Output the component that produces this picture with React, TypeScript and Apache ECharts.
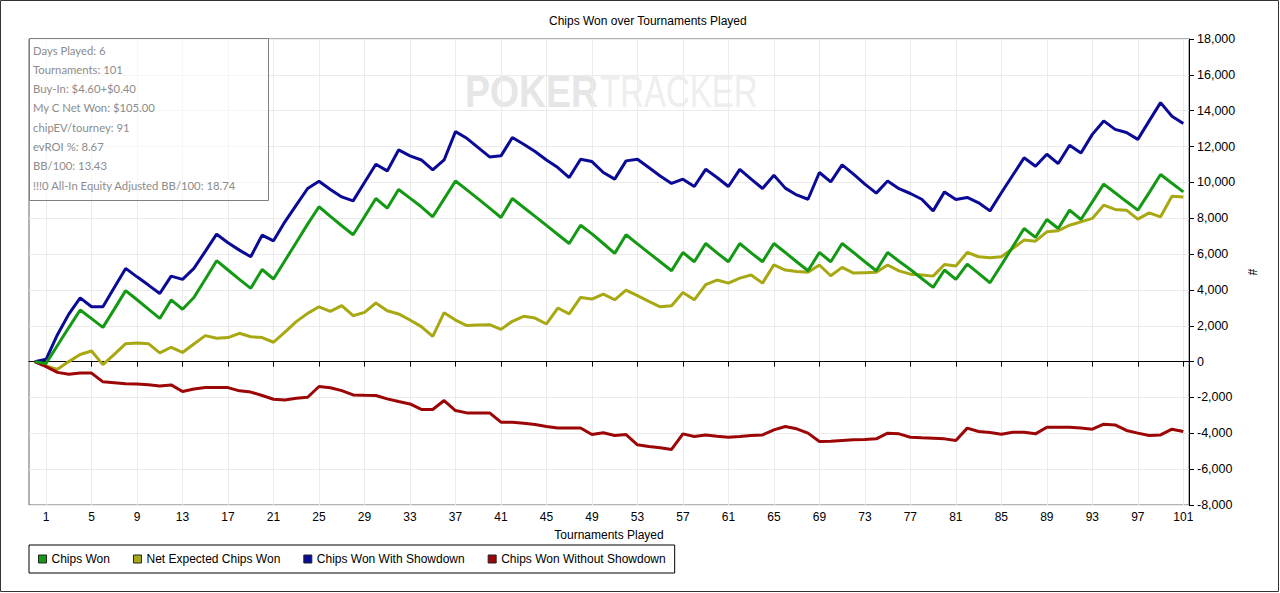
import React, { useEffect, useRef } from "react";
import * as echarts from "echarts";

const TOURNAMENTS: string[] = Array.from({ length: 102 }, (_, i) => String(i));

const SERIES_NAMES = [
  "Chips Won",
  "Net Expected Chips Won",
  "Chips Won With Showdown",
  "Chips Won Without Showdown",
];

const chipsWon = [0,-100,900,1900,2880,2400,1910,2930,3960,3450,
2930,2410,3440,2920,3580,4600,5630,5110,4590,4090,
5140,4610,5630,6650,7670,8640,8100,7580,7080,8080,
9100,8560,9600,9120,8640,8080,9080,10080,9580,9080,
8560,8040,9100,8600,8100,7600,7090,6590,7610,7130,
6590,6040,7080,6570,6070,5570,5070,6090,5570,6590,
6070,5570,6590,6070,5570,6590,6090,5570,5070,6090,
5570,6590,6090,5570,5070,6090,5600,5140,4640,4140,
5110,4590,5440,4920,4400,5390,6410,7430,6930,7930,
7430,8450,7930,8910,9900,9420,8930,8450,9430,10440,
9950,9470];

const netExpected = [0,-240,-430,0,400,590,-170,400,1000,1040,
1000,490,800,510,980,1450,1300,1340,1580,1390,
1340,1080,1650,2230,2690,3060,2800,3120,2560,2750,
3270,2840,2660,2320,1950,1410,2730,2320,2010,2040,
2060,1800,2250,2530,2430,2100,2990,2660,3580,3490,
3770,3450,3990,3680,3360,3060,3120,3860,3450,4290,
4550,4380,4660,4830,4380,5400,5110,5030,4980,5390,
4790,5260,4940,4960,4980,5390,5060,4880,4830,4770,
5420,5330,6090,5850,5790,5850,6310,6780,6720,7240,
7300,7610,7800,7990,8730,8490,8450,7950,8300,8080,
9230,9190];

const withShowdown = [0,130,1500,2650,3560,3060,3060,4140,5200,4730,
4270,3800,4770,4590,5200,6150,7110,6630,6220,5850,
7060,6740,7800,8730,9660,10060,9600,9190,8970,9990,
11010,10640,11810,11480,11250,10700,11250,12830,12460,11940,
11420,11480,12500,12130,11720,11250,10830,10270,11290,11160,
10550,10180,11200,11290,10830,10360,9940,10180,9770,10730,
10270,9770,10730,10180,9660,10400,9680,9300,9060,10550,
10030,10980,10460,9900,9400,10080,9650,9380,9060,8410,
9470,9040,9160,8860,8410,9420,10400,11370,10900,11570,
11050,12070,11640,12680,13430,12960,12780,12400,13430,14450,
13690,13280];

const withoutShowdown = [0,-280,-600,-700,-630,-640,-1130,-1180,-1230,-1250,
-1290,-1360,-1300,-1670,-1530,-1450,-1450,-1450,-1630,-1700,
-1890,-2100,-2140,-2040,-1990,-1390,-1460,-1620,-1860,-1880,
-1890,-2080,-2230,-2360,-2670,-2670,-2170,-2730,-2860,-2860,
-2860,-3380,-3380,-3440,-3510,-3620,-3710,-3700,-3700,-4070,
-3970,-4120,-4070,-4640,-4740,-4810,-4900,-4030,-4180,-4090,
-4160,-4220,-4180,-4120,-4090,-3810,-3620,-3750,-3990,-4460,
-4440,-4400,-4360,-4350,-4310,-3990,-4030,-4220,-4250,-4270,
-4310,-4400,-3710,-3900,-3960,-4050,-3940,-3940,-4030,-3660,
-3660,-3660,-3710,-3770,-3490,-3530,-3840,-3990,-4120,-4090,
-3770,-3900];

const INFO_LINES = [
  "Days Played: 6",
  "Tournaments: 101",
  "Buy-In: $4.60+$0.40",
  "My C Net Won: $105.00",
  "chipEV/tourney: 91",
  "evROI %: 8.67",
  "BB/100: 13.43",
  "!!!0 All-In Equity Adjusted BB/100: 18.74",
];

const COLORS = ["#149914", "#a8a812", "#0a0a96", "#9c0606"];
const FONT = "Arial, 'Liberation Sans', sans-serif";

const showTick = (index: number) => index % 4 === 1;

export default function App() {
  const ref = useRef<HTMLDivElement>(null);
  useEffect(() => {
    if (!ref.current) return;
    const chart = echarts.init(ref.current, null, { renderer: "svg" });
    const seriesData = [chipsWon, netExpected, withShowdown, withoutShowdown];
    const zs = [4, 3, 3, 3];
    const option: any = {
      animation: false,
      backgroundColor: "#ffffff",
      textStyle: { fontFamily: FONT },
      title: {
        text: "Chips Won over Tournaments Played",
        left: 549,
        top: 15,
        padding: 0,
        textStyle: { fontSize: 12, fontWeight: "normal", color: "#000", fontFamily: FONT },
      },
      grid: {
        left: 29,
        right: 91,
        top: 39,
        bottom: 88,
        show: true,
        borderColor: "#666",
        borderWidth: 1,
        containLabel: false,
      },
      legend: {
        data: SERIES_NAMES,
        left: 29,
        top: 545,
        padding: [8, 9, 8, 9],
        itemGap: 23,
        itemWidth: 8,
        itemHeight: 8,
        icon: "rect",
        borderColor: "#000",
        borderWidth: 1,
        borderRadius: 0,
        textStyle: { fontSize: 12, color: "#000", fontFamily: FONT },
        itemStyle: { borderColor: "#222", borderWidth: 1 },
      },
      xAxis: {
        type: "category",
        data: TOURNAMENTS,
        boundaryGap: true,
        name: "Tournaments Played",
        nameLocation: "middle",
        nameGap: 24,
        nameTextStyle: { fontSize: 12, color: "#000", fontFamily: FONT },
        axisLine: { show: true, lineStyle: { color: "#000", width: 1 } },
        axisTick: { show: true, interval: showTick, alignWithLabel: true, length: 5, lineStyle: { color: "#000" } },
        axisLabel: { interval: showTick, fontSize: 12, color: "#000", margin: 6, fontFamily: FONT },
        splitLine: { show: true, interval: showTick, alignWithLabel: true, lineStyle: { color: "#ebebeb", width: 1 } },
      },
      yAxis: {
        type: "value",
        position: "right",
        min: -8000,
        max: 18000,
        interval: 2000,
        name: "#",
        nameLocation: "middle",
        nameGap: 49,
        nameRotate: -90,
        nameTextStyle: { fontSize: 12, color: "#000", fontFamily: FONT },
        axisLine: { show: true, lineStyle: { color: "#000", width: 1 } },
        axisTick: { show: true, length: 5, lineStyle: { color: "#000" } },
        axisLabel: {
          fontSize: 12.5,
          color: "#000",
          margin: 8,
          fontFamily: FONT,
          formatter: (v: number) => v.toLocaleString("en-US"),
        },
        splitLine: { show: true, lineStyle: { color: "#ebebeb", width: 1 } },
      },
      graphic: [
        {
          type: "text",
          x: 465,
          y: 70,
          z: 0,
          scaleX: 0.85,
          silent: true,
          style: {
            text: "POKER",
            fontSize: 44,
            fontWeight: "bold",
            fontFamily: FONT,
            fill: "#e6e6e6",
          },
        },
        {
          type: "text",
          x: 600,
          y: 70,
          z: 0,
          scaleX: 0.75,
          silent: true,
          style: {
            text: "TRACKER",
            fontSize: 44,
            fontFamily: FONT,
            fill: "#eeeeee",
          },
        },
        {
          type: "rect",
          z: 10,
          silent: true,
          shape: { x: 29.5, y: 38.5, width: 239, height: 162 },
          style: { fill: "rgba(255,255,255,0.55)", stroke: "#808080", lineWidth: 1 },
        },
        ...INFO_LINES.map((t, i) => ({
          type: "text",
          z: 11,
          silent: true,
          x: 33,
          y: 50 + i * 19.3,
          style: {
            text: t,
            fontSize: 11.3,
            fontFamily: "Lato, 'Noto Sans', sans-serif",
            fill: "#8c8c8c",
            verticalAlign: "middle",
          },
        })),
        {
          type: "rect",
          z: 20,
          silent: true,
          shape: { x: 0.5, y: 0.5, width: 1278, height: 591 },
          style: { fill: "none", stroke: "#333", lineWidth: 1 },
        },
      ],
      series: SERIES_NAMES.map((name, i) => ({
        name,
        type: "line",
        data: seriesData[i],
        symbol: "none",
        showSymbol: false,
        z: zs[i],
        lineStyle: { color: COLORS[i], width: 3 },
        itemStyle: { color: COLORS[i] },
        ...(i === 0
          ? {
              markLine: {
                silent: true,
                symbol: "none",
                label: { show: false },
                lineStyle: { color: "#000", width: 1, type: "solid" },
                data: [{ yAxis: 0 }],
                z: 1,
              },
            }
          : {}),
      })),
    };
    chart.setOption(option);
    return () => chart.dispose();
  }, []);
  return (
    <div
      ref={ref}
      style={{ position: "fixed", left: 0, top: 0, width: 1280, height: 593, background: "#fff" }}
    />
  );
}
